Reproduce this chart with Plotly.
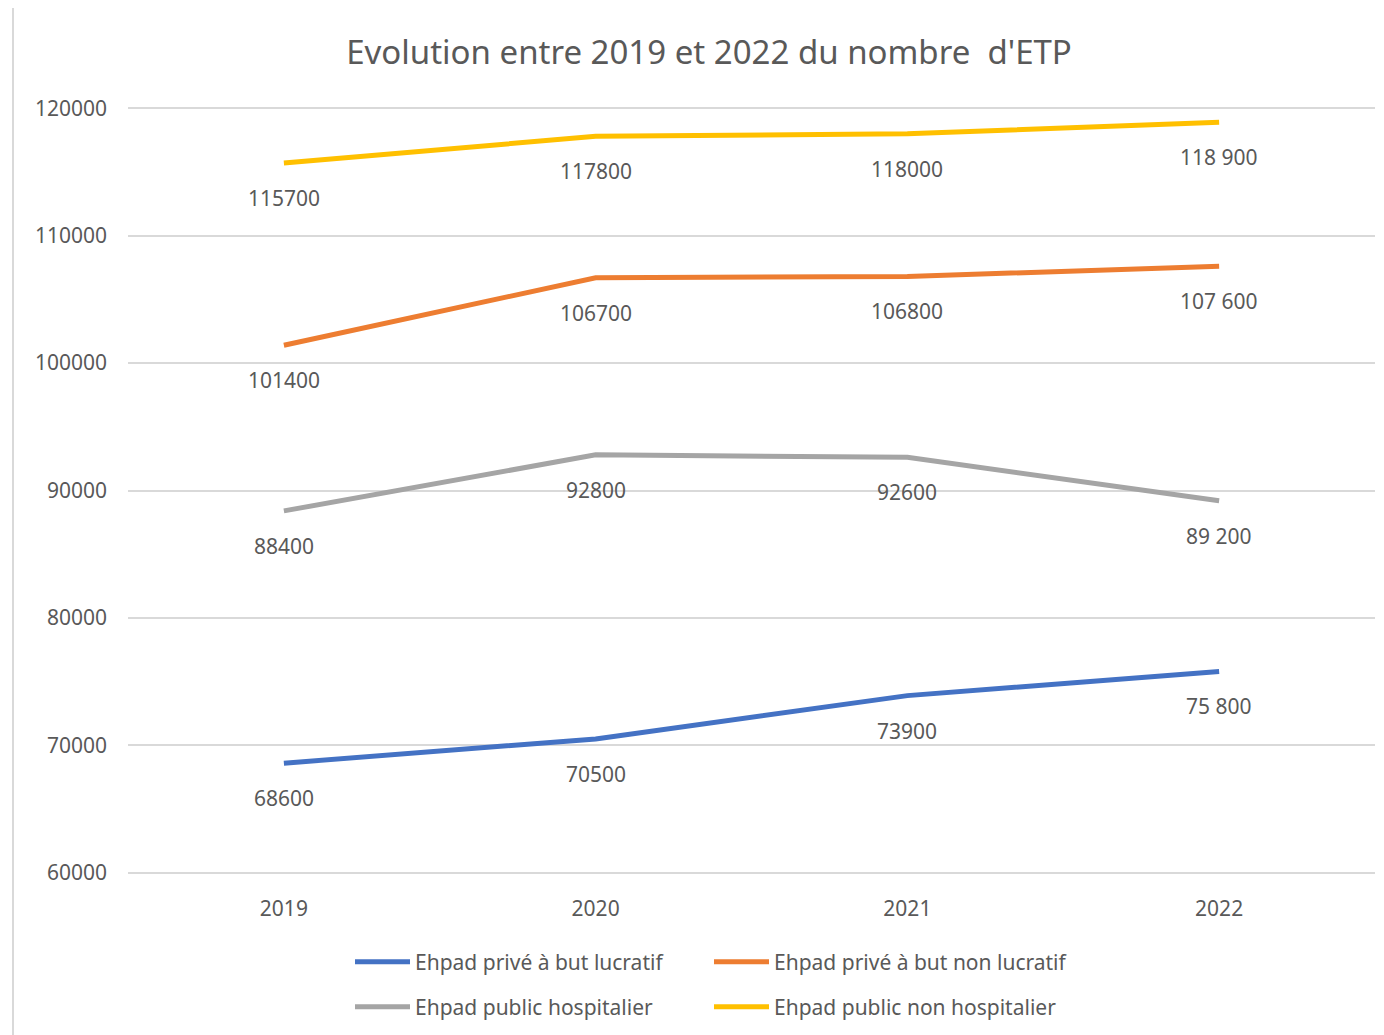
import plotly.graph_objects as go

# Data
years = ["2019", "2020", "2021", "2022"]
series_names = [
    "Ehpad privé à but lucratif",
    "Ehpad privé à but non lucratif",
    "Ehpad public hospitalier",
    "Ehpad public non hospitalier",
]
prive_lucratif = [68600, 70500, 73900, 75800]
prive_non_lucratif = [101400, 106700, 106800, 107600]
public_hospitalier = [88400, 92800, 92600, 89200]
public_non_hospitalier = [115700, 117800, 118000, 118900]

# labels as shown (2022 uses a thousands space)
labels_lucratif = ["68600", "70500", "73900", "75 800"]
labels_non_lucratif = ["101400", "106700", "106800", "107 600"]
labels_hospitalier = ["88400", "92800", "92600", "89 200"]
labels_non_hospitalier = ["115700", "117800", "118000", "118 900"]

colors = ["#4472C4", "#ED7D31", "#A5A5A5", "#FFC000"]
font_family = "Noto Sans, Open Sans, sans-serif"
text_color = "#595959"

all_values = [prive_lucratif, prive_non_lucratif, public_hospitalier, public_non_hospitalier]
all_labels = [labels_lucratif, labels_non_lucratif, labels_hospitalier, labels_non_hospitalier]
legend_ids = ["legend", "legend", "legend2", "legend2"]

fig = go.Figure()

for name, vals, color, leg in zip(series_names, all_values, colors, legend_ids):
    fig.add_trace(go.Scatter(
        x=years,
        y=vals,
        mode="lines",
        name=name,
        line=dict(color=color, width=5),
        legend=leg,
    ))

# data labels below each point (x given as category index)
annotations = []
for vals, labs in zip(all_values, all_labels):
    for i, (v, lab) in enumerate(zip(vals, labs)):
        annotations.append(dict(
            x=i, y=v, xref="x", yref="y", text=lab, showarrow=False,
            yshift=-35,
            font=dict(family=font_family, size=21, color=text_color),
        ))

# plot area sits at 128..1375 x 107..875 in the page (8px body margin)
fig.update_layout(
    width=1376,
    height=1027,
    margin=dict(l=120, r=9, t=99, b=160),
    paper_bgcolor="white",
    plot_bgcolor="white",
    font=dict(family=font_family, color=text_color),
    title=dict(
        text="Evolution entre 2019 et 2022 du nombre  d'ETP",
        x=701 / 1376, xanchor="center",
        y=1 - 44 / 1027, yanchor="middle",
        font=dict(size=33, color=text_color),
    ),
    xaxis=dict(
        type="category",
        range=[-0.5, 3.5],
        showgrid=False,
        showline=False,
        zeroline=False,
        ticks="",
        ticklabelstandoff=20,
        tickfont=dict(size=21, color=text_color),
    ),
    yaxis=dict(
        range=[59900, 120100],
        tickvals=[60000, 70000, 80000, 90000, 100000, 110000, 120000],
        showgrid=True,
        gridcolor="#D9D9D9",
        gridwidth=2,
        zeroline=False,
        showline=False,
        ticks="",
        ticklabelstandoff=20,
        tickformat="d",
        tickfont=dict(size=21, color=text_color),
    ),
    legend=dict(
        orientation="h",
        x=(350 - 128) / 1247, xanchor="left",
        y=(875 - 962) / 768, yanchor="middle",
        entrywidth=289,
        itemwidth=55,
        font=dict(size=21, color=text_color),
        bgcolor="rgba(0,0,0,0)",
    ),
    legend2=dict(
        orientation="h",
        x=(350 - 128) / 1247, xanchor="left",
        y=(875 - 1007) / 768, yanchor="middle",
        entrywidth=289,
        itemwidth=55,
        font=dict(size=21, color=text_color),
        bgcolor="rgba(0,0,0,0)",
    ),
    annotations=annotations,
    shapes=[dict(
        type="rect", xref="paper", yref="paper",
        x0=(13 - 128) / 1247, x1=1.2,
        y0=-0.4, y1=(875 - 6) / 768,
        line=dict(color="#D9D9D9", width=2),
        fillcolor="rgba(0,0,0,0)",
        layer="below",
    )],
)

fig.write_html("out.html")
